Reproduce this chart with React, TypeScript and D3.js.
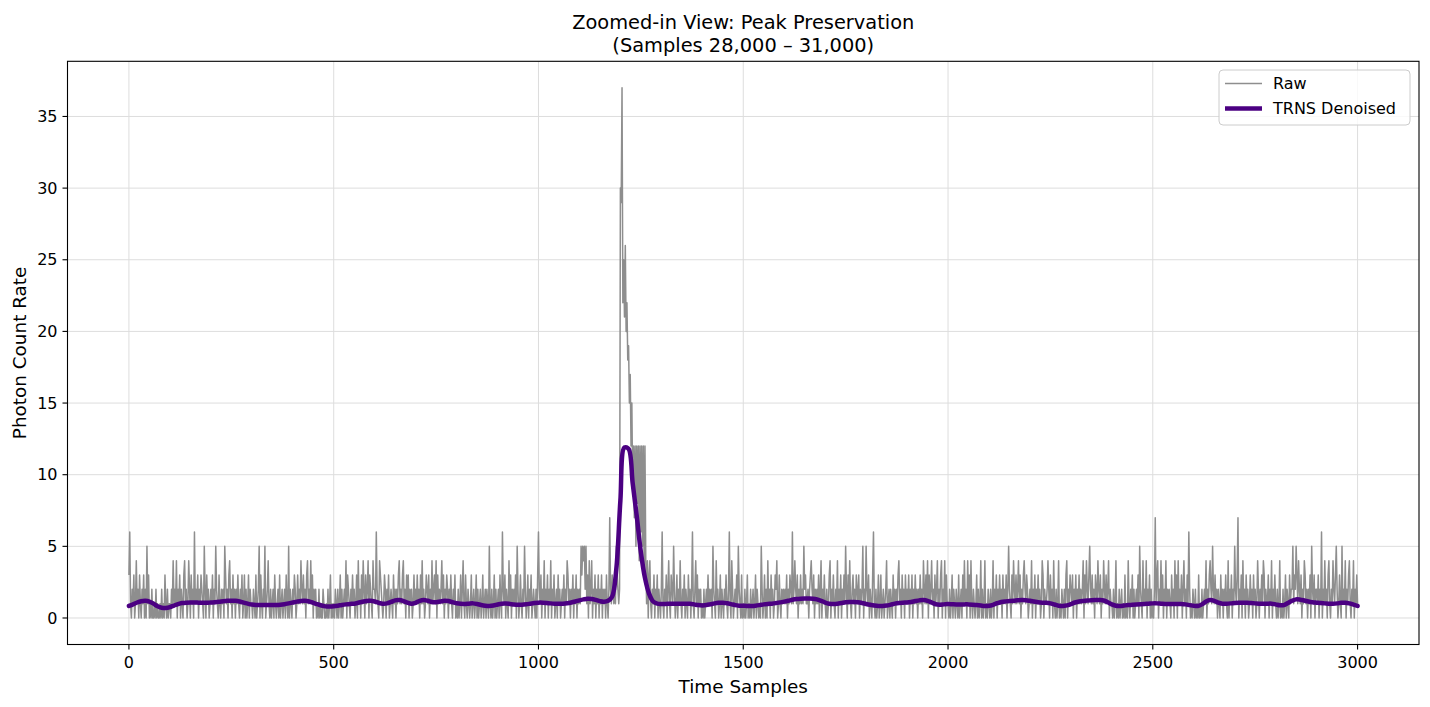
import * as d3 from 'd3';

// ─ Data ─────────────────────────────────────────────────────────────────────
// Raw photon counts, one value every RAW_STEP samples, 50 values (100 samples) per row.
const RAW_STEP = 2;

// samples 0 – 1198
const rawBefore: string[] = [
  '3610213014 1203102130 2051301020 0102010010 2010310201',
  '1021412140 2130210341 2014203120 6121302132 1052031201',
  '2130215210 3102120531 2034120312 0213102130 1302013021',
  '1021030125 0310215012 4102012031 0120301201 2031050210',
  '2132013121 4213120341 2141302120 1020100210 0102013010',
  '1021020130 2012140321 0213120130 4120314203 1240321042',
  '2162104321 0132021301 2103120213 4121341203 1302120131',
  '2131203141 2013213021 4123140312 1241302132 0213102130',
  '1020130241 0310210130 1201302012 0130120210 5102013020',
  '1203106213 0210413021 2130520131 0215201302 1301210203',
  '6213021402 1302140213 0120312012 1302143120 2130213021',
  '2153545251 3041240213 0213021302 1203102721 3212153212',
];

// samples 1200 – 1298 (the flare)
const rawPeak: number[] = [
  30, 29, 37, 22, 25, 21, 26, 20, 22, 18,
  19, 15, 17, 12, 15, 9, 12, 7, 12, 5,
  12, 8, 12, 4, 12, 6, 12, 5, 12, 3,
  12, 4, 1, 4, 0, 3, 4, 1, 0, 2,
  1, 3, 0, 2, 1, 3, 0, 2, 1, 0,
];

// samples 1300 – 3000
const rawAfter: string[] = [
  '2610213024 1032152013 0214102130 2103120261 0241302120',
  '1020121312 1205210412 0130210213 1026104201 2130521030',
  '1020130102 0120130210 1052013020 4120312013 2401310212',
  '1213021321 6124213021 3121523112 0234213021 2130240213',
  '1020134021 3102140213 0213152031 4102312032 1302125021',
  '5213021036 1020130130 1201240120 2103120213 4120312031',
  '2130213021 3120213120 4213140312 4120312402 1340214031',
  '1020130210 2103012031 4120413041 0210130201 4020140102',
  '1020140213 0213120312 1302521031 4213124130 2134213201',
  '2140213021 3120143021 1242031204 1020140102 1020340213',
  '2130213021 3121240314 2135213120 3214213021 4213124021',
  '1020140102 0120103010 4102130201 2130521041 2140213020',
  '1027134021 4130214021 2103120413 0412130241 2031620102',
  '1020103010 2012140213 4215213120 2103120213 1040213021',
  '5213702130 4120312013 1203120142 0213143021 1302140213',
  '1020140102 0130210312 2513253142 1302143120 2130521302',
  '2130216021 4120341021 4213520131 0512140213 4102140213',
  '1',
];

// TRNS denoised signal, one value every TRNS_STEP samples (0 – 3000)
const TRNS_STEP = 10;
const trnsValues: number[] = [
  0.84, 0.95, 1.08, 1.17, 1.2, 1.15, 1.0, 0.82, 0.72, 0.7,
  0.76, 0.87, 0.97, 1.04, 1.07, 1.08, 1.08, 1.07, 1.06, 1.06,
  1.08, 1.1, 1.13, 1.17, 1.2, 1.21, 1.2, 1.15, 1.07, 1.0,
  0.94, 0.91, 0.9, 0.9, 0.9, 0.9, 0.9, 0.92, 0.96, 1.02,
  1.08, 1.14, 1.19, 1.2, 1.15, 1.06, 0.96, 0.87, 0.81, 0.8,
  0.82, 0.86, 0.91, 0.95, 0.98, 1.0, 1.06, 1.13, 1.19, 1.2,
  1.15, 1.06, 1.0, 1.02, 1.12, 1.23, 1.25, 1.18, 1.07, 1.0,
  1.06, 1.2, 1.25, 1.2, 1.12, 1.1, 1.15, 1.2, 1.18, 1.1,
  1.03, 0.99, 0.98, 1.0, 1.02, 0.98, 0.91, 0.86, 0.84, 0.87,
  0.94, 1.0, 1.01, 0.98, 0.94, 0.92, 0.93, 0.96, 1.0, 1.04,
  1.07, 1.07, 1.05, 1.02, 1.0, 0.99, 1.0, 1.03, 1.08, 1.15,
  1.23, 1.3, 1.35, 1.33, 1.26, 1.18, 1.14, 1.2, 1.5, 3.4,
  8.2, 11.9, 11.8, 9.4, 7.1, 4.6, 2.8, 1.7, 1.15, 1.0,
  0.98, 0.98, 0.99, 1.0, 1.0, 1.0, 1.0, 0.99, 0.95, 0.9,
  0.88, 0.9, 0.96, 1.02, 1.06, 1.07, 1.03, 0.97, 0.9, 0.86,
  0.85, 0.84, 0.84, 0.86, 0.9, 0.95, 0.98, 1.0, 1.04, 1.09,
  1.14, 1.2, 1.27, 1.32, 1.35, 1.36, 1.36, 1.35, 1.3, 1.2,
  1.08, 1.0, 0.98, 1.0, 1.05, 1.1, 1.12, 1.12, 1.1, 1.05,
  0.98, 0.92, 0.87, 0.84, 0.84, 0.87, 0.93, 1.0, 1.05, 1.07,
  1.08, 1.12, 1.18, 1.23, 1.25, 1.2, 1.08, 0.96, 0.93, 0.95,
  0.97, 0.96, 0.95, 0.95, 0.95, 0.95, 0.93, 0.9, 0.87, 0.84,
  0.85, 0.92, 1.03, 1.12, 1.16, 1.18, 1.2, 1.23, 1.25, 1.24,
  1.2, 1.15, 1.1, 1.07, 1.06, 1.02, 0.94, 0.86, 0.84, 0.88,
  0.97, 1.08, 1.15, 1.19, 1.22, 1.24, 1.25, 1.25, 1.22, 1.1,
  0.95, 0.85, 0.84, 0.87, 0.9, 0.92, 0.94, 0.96, 0.98, 1.0,
  1.02, 1.02, 1.0, 0.98, 0.97, 0.97, 0.98, 0.98, 0.95, 0.9,
  0.85, 0.84, 0.95, 1.15, 1.25, 1.2, 1.07, 1.0, 1.0, 1.02,
  1.05, 1.07, 1.07, 1.06, 1.04, 1.02, 1.0, 0.99, 1.0, 1.0,
  0.95, 0.89, 0.9, 1.05, 1.2, 1.3, 1.28, 1.22, 1.15, 1.1,
  1.07, 1.04, 1.02, 1.0, 1.0, 1.02, 1.06, 1.07, 1.02, 0.93,
  0.84,
];

const xTicks = [0, 500, 1000, 1500, 2000, 2500, 3000];
const yTicks = [0, 5, 10, 15, 20, 25, 30, 35];

// ─ Layout ───────────────────────────────────────────────────────────────────
const WIDTH = 1430;
const HEIGHT = 707;
const FONT = '"DejaVu Sans", Verdana, sans-serif';
const RAW_COLOR = '#8e8e8e';
const TRNS_COLOR = '#4B0082';

const digits = (rows: string[]): number[] =>
  rows.join('').replace(/\s/g, '').split('').map(Number);

export default function App() {
  const rawCounts = [...digits(rawBefore), ...rawPeak, ...digits(rawAfter)];
  const rawPoints: [number, number][] = rawCounts.map((v, i) => [i * RAW_STEP, v]);
  const trnsPoints: [number, number][] = trnsValues.map((v, i) => [i * TRNS_STEP, v]);

  const x = d3.scaleLinear().domain([-150, 3150]).range([67.5, 1419]);
  const y = d3.scaleLinear().domain([-1.85, 38.85]).range([644.5, 61.3]);
  const [x0, x1] = x.range();
  const [y0, y1] = y.range();

  const rawLine = d3.line<[number, number]>()
    .x(d => x(d[0]))
    .y(d => y(d[1]));

  const trnsLine = d3.line<[number, number]>()
    .x(d => x(d[0]))
    .y(d => y(d[1]))
    .curve(d3.curveCatmullRom.alpha(0.5));

  const cx = (x0 + x1) / 2;
  const cy = (y0 + y1) / 2;

  return (
    <svg
      width={WIDTH}
      height={HEIGHT}
      style={{ position: 'absolute', left: 0, top: 0, background: '#fff' }}
      fontFamily={FONT}
    >
      <rect x={0} y={0} width={WIDTH} height={HEIGHT} fill="#fff" />

      {/* grid */}
      <g stroke="#dddddd" strokeWidth={1}>
        {xTicks.map(t => (
          <line key={`gx${t}`} x1={x(t)} x2={x(t)} y1={y1} y2={y0} />
        ))}
        {yTicks.map(t => (
          <line key={`gy${t}`} x1={x0} x2={x1} y1={y(t)} y2={y(t)} />
        ))}
      </g>

      {/* series */}
      <path
        d={rawLine(rawPoints) || ''}
        fill="none"
        stroke={RAW_COLOR}
        strokeWidth={1.5}
        strokeLinejoin="round"
      />
      <path
        d={trnsLine(trnsPoints) || ''}
        fill="none"
        stroke={TRNS_COLOR}
        strokeWidth={4.5}
        strokeLinejoin="round"
        strokeLinecap="round"
      />

      {/* frame */}
      <rect x={x0} y={y1} width={x1 - x0} height={y0 - y1} fill="none" stroke="#000" strokeWidth={1.1} />

      {/* x axis */}
      <g fontSize={16} textAnchor="middle" fill="#000">
        {xTicks.map(t => (
          <g key={`xt${t}`}>
            <line x1={x(t)} x2={x(t)} y1={y0} y2={y0 + 5} stroke="#000" strokeWidth={1.1} />
            <text x={x(t)} y={y0 + 18} dy="0.35em">{t}</text>
          </g>
        ))}
      </g>

      {/* y axis */}
      <g fontSize={16} textAnchor="end" fill="#000">
        {yTicks.map(t => (
          <g key={`yt${t}`}>
            <line x1={x0 - 5} x2={x0} y1={y(t)} y2={y(t)} stroke="#000" strokeWidth={1.1} />
            <text x={x0 - 10} y={y(t)} dy="0.35em">{t}</text>
          </g>
        ))}
      </g>

      {/* labels */}
      <text x={cx} y={687} dy="0.35em" textAnchor="middle" fontSize={18.4}>Time Samples</text>
      <text
        transform={`translate(20,${cy}) rotate(-90)`}
        dy="0.35em"
        textAnchor="middle"
        fontSize={18.4}
      >
        Photon Count Rate
      </text>
      <text x={cx} y={22} dy="0.35em" textAnchor="middle" fontSize={19.4}>
        Zoomed-in View: Peak Preservation
      </text>
      <text x={cx} y={45} dy="0.35em" textAnchor="middle" fontSize={19.4}>
        (Samples 28,000 – 31,000)
      </text>

      {/* legend */}
      <g>
        <rect x={1219} y={70} width={191} height={55} rx={4} fill="#fff" fillOpacity={0.8} stroke="#cccccc" strokeWidth={1} />
        <line x1={1225} x2={1262} y1={83.5} y2={83.5} stroke={RAW_COLOR} strokeWidth={1.3} />
        <text x={1273} y={83.5} dy="0.35em" fontSize={16}>Raw</text>
        <line x1={1225} x2={1262} y1={108.5} y2={108.5} stroke={TRNS_COLOR} strokeWidth={4.5} />
        <text x={1273} y={108.5} dy="0.35em" fontSize={16}>TRNS Denoised</text>
      </g>
    </svg>
  );
}
